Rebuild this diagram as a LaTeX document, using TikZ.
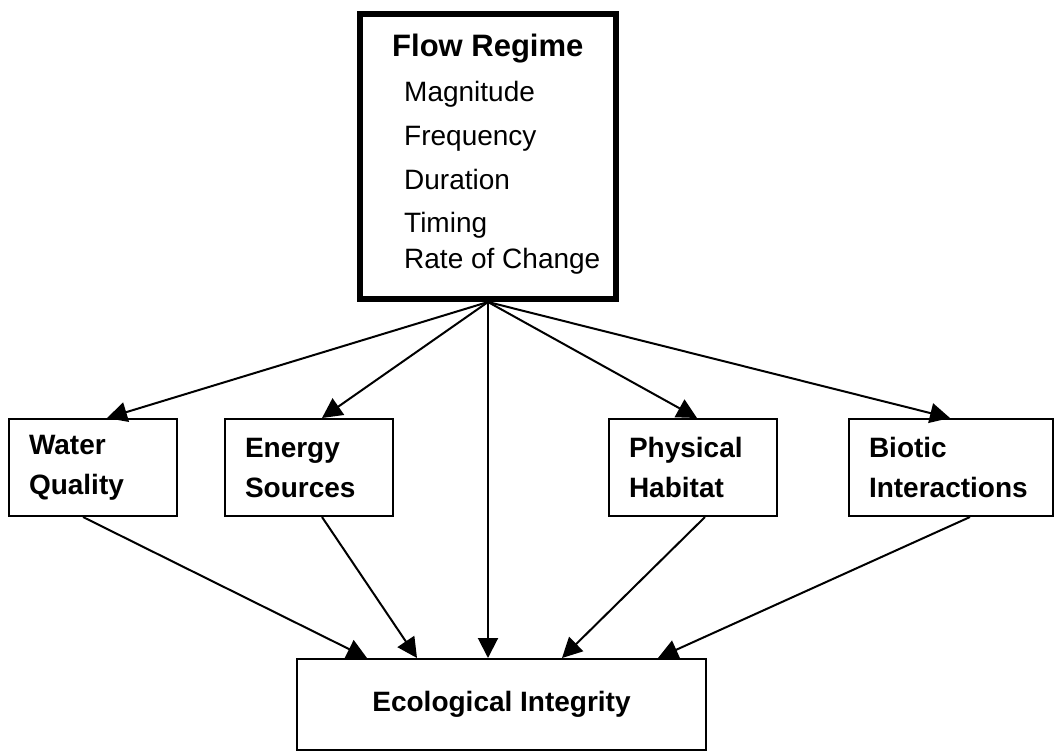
\documentclass[tikz,border=0pt]{standalone}
\usepackage{fontspec}
\setmainfont{Liberation Sans}
\usetikzlibrary{arrows.meta}
\begin{document}
\begin{tikzpicture}[x=1pt,y=-1pt,
  box/.style={draw, line width=2pt, rectangle, inner sep=0pt},
  lbl/.style={font=\fontsize{28}{40}\selectfont\bfseries, align=left},
  item/.style={font=\fontsize{28}{34}\selectfont, anchor=base west, inner sep=0pt},
  arr/.style={line width=2pt, -{Triangle[length=20pt,width=20pt]}}]
\useasboundingbox (0,0) rectangle (1055,750);

% Flow regime box
\node[draw, line width=6pt, rectangle, inner sep=0pt, minimum width=256pt, minimum height=285pt] (fr) at (488,156.5) {};
\node[font=\fontsize{31}{36}\selectfont\bfseries, anchor=base west, inner sep=0pt] (frt) at (392,56) {Flow Regime};
\node[item] (fr1) at (404,101.5) {Magnitude};
\node[item] (fr2) at (404,145.5) {Frequency};
\node[item] (fr3) at (404,189) {Duration};
\node[item] (fr4) at (404,232) {Timing};
\node[item] (fr5) at (404,268) {Rate of Change};

% middle boxes
\node[box, lbl, inner xsep=20pt, text width=128pt, minimum height=97pt] (wq) at (93,467.5) {Water\\Quality};
\node[box, lbl, inner xsep=20pt, text width=128pt, minimum height=97pt] (es) at (309,467.5) {Energy\\Sources};
\node[box, lbl, inner xsep=20pt, text width=128pt, minimum height=97pt] (ph) at (693,467.5) {Physical\\Habitat};
\node[box, lbl, inner xsep=20pt, text width=164pt, minimum height=97pt] (bi) at (951,467.5) {Biotic\\Interactions};

% bottom box
\node[box, font=\fontsize{28}{34}\selectfont\bfseries, minimum width=409pt, minimum height=91pt] (eco) at (501.5,704.5) {Ecological Integrity};

% arrows from flow regime
\draw[arr] (fr.south) -- ([xshift=14pt]wq.north);
\draw[arr] (fr.south) -- ([xshift=13pt]es.north);
\draw[arr] (fr.south) -- ([xshift=4pt]ph.north);
\draw[arr] (fr.south) -- ([xshift=-1pt]bi.north);
\draw[arr] (fr.south) -- (fr.south |- eco.north);

% arrows to ecological integrity
\draw[arr] ([xshift=-10pt]wq.south) -- ([xshift=-134.5pt]eco.north);
\draw[arr] ([xshift=13pt]es.south) -- ([xshift=-84.5pt]eco.north);
\draw[arr] ([xshift=12pt]ph.south) -- ([xshift=60.5pt]eco.north);
\draw[arr] ([xshift=19pt]bi.south) -- ([xshift=156.5pt]eco.north);
\end{tikzpicture}
\end{document}
